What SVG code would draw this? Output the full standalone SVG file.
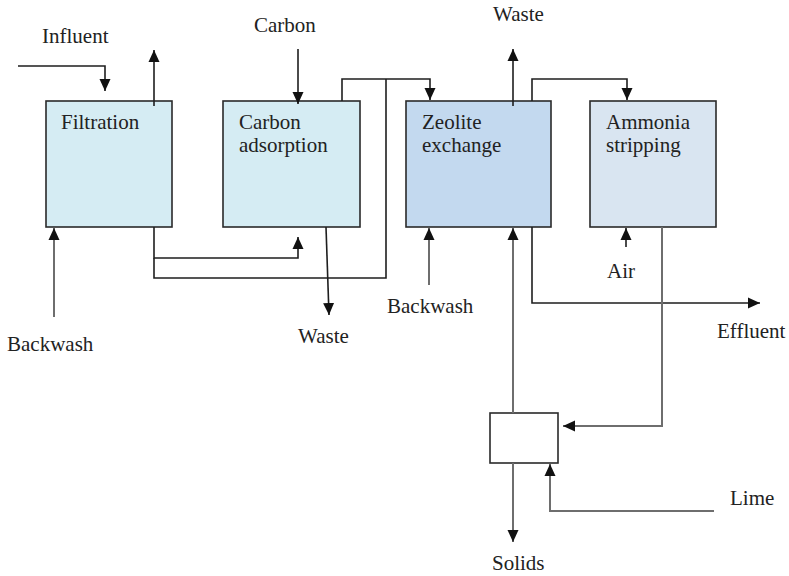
<svg xmlns="http://www.w3.org/2000/svg" width="789" height="576" viewBox="0 0 789 576">
<style>
.box{stroke:#2a2a2a;stroke-width:1.6}
.c{fill:none;stroke:#1e1e1e;stroke-width:1.6}
.g{fill:none;stroke:#6e6e6e;stroke-width:2}
.t{font-family:'Liberation Serif','Times New Roman',serif;font-size:21px;fill:#222}
</style>
<defs>
<marker id="ah" markerUnits="userSpaceOnUse" markerWidth="16" markerHeight="16" viewBox="0 0 16 16" refX="12" refY="8" orient="auto">
<path d="M0,2.5 L12,8 L0,13.5 Z" fill="#111"/>
</marker>
</defs>
<g id="filtration" class="t">
<rect class="box" x="46" y="101" width="126" height="126" fill="#d5ecf3"/>
<text x="61" y="129">Filtration</text>
</g>
<g id="carbon-adsorption" class="t">
<rect class="box" x="223" y="101" width="137" height="126" fill="#d5ecf3"/>
<text x="239" y="129">Carbon</text>
<text x="239" y="152">adsorption</text>
</g>
<g id="zeolite-exchange" class="t">
<rect class="box" x="406" y="101" width="145" height="126" fill="#c3d9ef"/>
<text x="422" y="129">Zeolite</text>
<text x="422" y="152">exchange</text>
</g>
<g id="ammonia-stripping" class="t">
<rect class="box" x="590" y="101" width="126" height="126" fill="#d9e5f1"/>
<text x="606" y="129">Ammonia</text>
<text x="606" y="152">stripping</text>
</g>
<g id="clarifier">
<rect class="box" x="490" y="413" width="68" height="50" fill="#ffffff"/>
</g>
<g id="connectors">
<path class="c" d="M18,66 H105 V91" marker-end="url(#ah)"/>
<path class="c" d="M154,106 V50" marker-end="url(#ah)"/>
<path class="c" d="M298,49 V104" marker-end="url(#ah)"/>
<path class="c" d="M342,101 V79 H430 V100" marker-end="url(#ah)"/>
<path class="c" d="M154,227 V258 H298 V237" marker-end="url(#ah)"/>
<path class="c" d="M154,258 V278 H386 V79"/>
<path class="c" d="M326,227 L329,315" marker-end="url(#ah)"/>
<path class="g" d="M54,317 V228" marker-end="url(#ah)"/>
<path class="c" d="M513,106 V49" marker-end="url(#ah)"/>
<path class="c" d="M532,101 V79 H627 V100" marker-end="url(#ah)"/>
<path class="c" d="M626,247 V228" marker-end="url(#ah)"/>
<path class="g" d="M429,285 V228" marker-end="url(#ah)"/>
<path class="g" d="M513,413 V228" marker-end="url(#ah)"/>
<path class="c" d="M532,227 V303 H760" marker-end="url(#ah)"/>
<path class="g" d="M662,227 V426 H563" marker-end="url(#ah)"/>
<path class="g" d="M513,463 V542" marker-end="url(#ah)"/>
<path class="g" d="M714,511 H550 V464" marker-end="url(#ah)"/>
</g>
<g id="labels" class="t">
<text x="42" y="43">Influent</text>
<text x="254" y="32">Carbon</text>
<text x="493" y="21">Waste</text>
<text x="7" y="351">Backwash</text>
<text x="298" y="343">Waste</text>
<text x="387" y="313">Backwash</text>
<text x="607" y="278">Air</text>
<text x="717" y="338">Effluent</text>
<text x="730" y="505">Lime</text>
<text x="492" y="570">Solids</text>
</g>
</svg>
